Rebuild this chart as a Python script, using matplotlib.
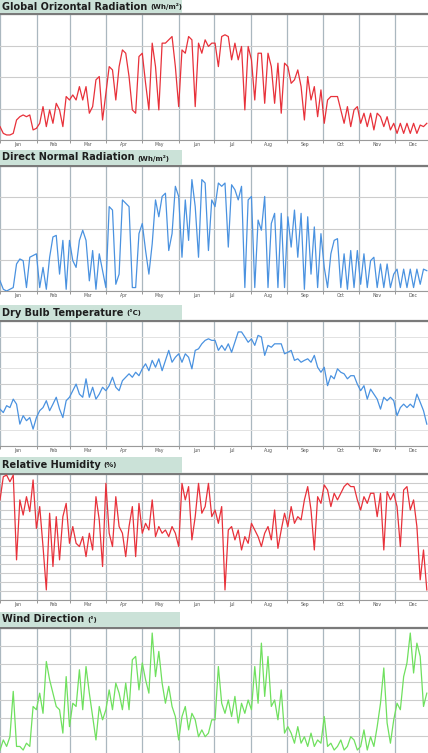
import numpy as np
import matplotlib
matplotlib.use("Agg")
import matplotlib.pyplot as plt
from matplotlib.patches import Rectangle

W, H = 428, 753

months = ["Jan", "Feb", "Mar", "Apr", "May", "Jun",
          "Jul", "Aug", "Sep", "Oct", "Nov", "Dec"]
month_starts = [0, 31, 59, 90, 120, 151, 181, 212, 243, 273, 304, 334]
month_mids = [15, 45, 74, 105, 135, 166, 196, 227, 258, 288, 319, 349]

# daily-ish samples (about every 2.8 days)
global_rad = [
    850, 420, 320, 320, 420, 1270, 1480, 1590, 1480, 1590, 640, 740, 1060,
    2120, 850, 1910, 1060, 2330, 1910, 850, 2760, 2540, 2860, 2540, 3390,
    2540, 3390, 1700, 2120, 3820, 4030, 1270, 2970, 4660, 4450, 2540, 4660,
    5720, 5510, 4030, 1910, 1700, 5300, 5510, 3600, 1910, 6150, 4660, 1910,
    6150, 6150, 6360, 6570, 4660, 2120, 5720, 5510, 6570, 6360, 2120, 6150,
    5510, 6360, 5940, 6150,
    6150, 4660, 6570, 6680, 6570, 5090, 6150, 5090, 5940, 1910, 5940, 5090,
    2540, 5510, 5510, 2330, 5510, 4660, 2330, 4880, 1700, 4880, 4660, 3600,
    3820, 4450, 3390, 1270, 4030, 2540, 3390, 1480, 3180, 1060, 2540, 2760,
    2760, 2760, 1910, 1060, 2120, 850, 1910, 2120, 1060, 1700, 850, 1700,
    640, 1700, 1480, 850, 1480, 640, 1060, 420, 1060, 420, 1060, 420, 1060,
    420, 950, 850, 1060,
]
direct_rad = [
    650, 110, 0, 110, 220, 1730, 2050, 1940, 220, 2160, 2270, 2380, 220,
    1510, 110, 2160, 3460, 3560, 1080, 3240, 110, 3240, 1940, 1510, 3240,
    3890, 3240, 650, 2590, 110, 2380, 1300, 220, 5400, 5180, 430, 1080, 5830,
    5620, 5400, 220, 220, 3670, 4320, 2590, 1080, 3020, 5830, 4750, 6050,
    6260, 2590, 3670, 6700, 6050, 2160, 5830, 3240, 7130, 5400, 2160, 7130,
    6910, 2590, 5830,
    5400, 6910, 6700, 6910, 2810, 6800, 6480, 5830, 6700, 220, 5830, 6050,
    220, 4540, 3890, 6050, 220, 4320, 4970, 220, 4970, 220, 4750, 2810, 5180,
    2160, 4970, 110, 4750, 1080, 4100, 220, 3670, 1510, 220, 2380, 3240,
    3350, 220, 2380, 110, 2590, 220, 2590, 430, 2380, 220, 1940, 2160, 220,
    1730, 220, 1730, 220, 1080, 1400, 220, 1400, 220, 1400, 220, 1400, 430,
    1400, 1300,
]
dry_bulb = [
    6.8, 5.7, 7.9, 7.3, 10.0, 8.4, 2.0, 4.7, 3.1, 4.1, 0.4, 4.1, 6.3, 7.3,
    9.5, 6.3, 8.4, 10.6, 6.8, 4.1, 9.5, 10.6, 12.7, 14.8, 11.6, 10.6, 16.5,
    10.6, 13.8, 10.0, 11.6, 13.8, 12.7, 14.3, 17.0, 13.8, 12.7, 15.9, 17.0,
    18.1, 17.0, 18.6, 17.5, 19.7, 21.3, 19.1, 22.4, 20.2, 22.9, 19.1, 22.4,
    25.6, 21.8, 23.4, 24.5, 21.8, 24.5, 23.4, 19.7, 25.6, 26.1, 27.7, 28.8,
    29.3, 28.8,
    28.8, 25.6, 27.2, 25.6, 27.7, 25.0, 28.2, 31.5, 31.5, 29.9, 28.2, 29.3,
    27.2, 30.4, 29.9, 24.0, 27.2, 26.6, 27.7, 27.7, 27.7, 24.5, 25.0, 25.6,
    22.4, 22.9, 21.8, 22.4, 22.9, 21.8, 24.0, 20.2, 18.6, 20.2, 14.3, 17.5,
    16.5, 19.7, 18.6, 18.1, 16.5, 17.5, 17.5, 14.8, 12.7, 14.3, 10.0, 13.2,
    11.6, 10.0, 6.8, 10.6, 9.5, 10.6, 9.5, 4.7, 7.3, 8.4, 7.3, 8.4, 7.3,
    11.6, 9.0, 6.3, 2.0,
]
rel_hum = [
    85.6, 98.5, 99.4, 95.7, 99.4, 52.3, 85.6, 77.2, 87.4, 79.1, 96.7, 69.8,
    81.9, 59.7, 35.6, 78.2, 48.6, 76.3, 52.3, 76.3, 83.7, 61.5, 70.8, 61.5,
    59.7, 65.2, 54.1, 67.1, 57.8, 87.4, 74.5, 48.6, 94.8, 67.1, 59.7, 87.4,
    70.8, 67.1, 54.1, 70.8, 81.9, 54.1, 83.7, 67.1, 72.6, 68.9, 85.6, 65.2,
    70.8, 67.1, 68.9, 65.2, 70.8, 67.1, 59.7, 94.8, 85.6, 93.0, 63.4, 76.3,
    94.8, 78.2, 81.9, 94.8, 76.3,
    80.0, 72.6, 81.9, 35.6, 68.9, 70.8, 63.4, 68.9, 57.8, 65.2, 61.5, 72.6,
    68.9, 65.2, 59.7, 67.1, 70.8, 63.4, 80.0, 58.7, 68.9, 78.2, 70.8, 81.9,
    72.6, 76.3, 74.5, 85.6, 93.0, 80.0, 57.8, 87.4, 83.7, 93.9, 91.1, 81.9,
    89.3, 85.6, 89.3, 93.0, 94.8, 93.0, 93.0, 85.6, 80.0, 87.4, 83.7, 89.3,
    89.3, 76.3, 89.3, 57.8, 90.2, 85.6, 89.3, 81.9, 59.7, 91.1, 93.0, 80.0,
    85.6, 70.8, 41.2, 57.8, 35.6,
]
wind_dir = [
    11, 39, 21, 48, 174, 21, 21, 11, 30, 21, 132, 123, 169, 113, 257, 206,
    169, 132, 123, 58, 215, 76, 141, 132, 234, 123, 243, 169, 104, 39, 132,
    95, 123, 178, 123, 197, 169, 123, 197, 123, 262, 271, 178, 253, 206, 169,
    336, 215, 285, 197, 141, 188, 132, 104, 39, 104, 132, 67, 113, 95, 48,
    67, 48, 58, 95,
    95, 243, 141, 113, 150, 104, 160, 86, 141, 113, 150, 123, 243, 141, 308,
    160, 271, 132, 150, 95, 178, 58, 76, 58, 30, 76, 30, 48, 21, 58, 21, 39,
    30, 104, 21, 30, 11, 21, 39, 11, 21, 48, 39, 11, 21, 67, 11, 48, 21, 76,
    141, 239, 86, 30, 95, 141, 123, 215, 253, 336, 225, 308, 271, 132, 169,
]

# title, unit, values, colour, ylim, ystep, minor?, axes top/bottom px, box top px, box width px, month labels?
panels = [
    ("Global Orizontal Radiation", "(Wh/m\u00b2)", global_rad, "#e8313a",
     (0, 8000), 2000, False, 14, 140, 0, 182, True),
    ("Direct Normal Radiation", "(Wh/m\u00b2)", direct_rad, "#4a92e0",
     (0, 8000), 2000, False, 166, 291, 150, 182, True),
    ("Dry Bulb Temperature", "(\u00b0C)", dry_bulb, "#4a92e0",
     (-5, 35), 10, True, 321, 446, 305, 182, True),
    ("Relative Humidity", "(%)", rel_hum, "#e8313a",
     (30, 100), 5, False, 474, 600, 457, 182, True),
    ("Wind Direction", "(\u00b0)", wind_dir, "#6fe05e",
     (0, 350), 50, False, 628, 754, 612, 180, False),
]

fig = plt.figure(figsize=(W / 100, H / 100), dpi=100)
renderer = fig.canvas.get_renderer()

for title, unit, vals, color, ylim, ystep, minor, top, bot, btop, bw, show_months in panels:
    ax = fig.add_axes([0, 1 - bot / H, 1, (bot - top) / H])
    x = np.linspace(0, 361, len(vals))
    ax.plot(x, vals, color=color, lw=0.9, zorder=3)
    ax.set_xlim(0, 362)
    ax.set_ylim(*ylim)

    ax.set_yticks(np.arange(ylim[0], ylim[1] + ystep / 2, ystep))
    if minor:
        ax.set_yticks(np.arange(ylim[0] + ystep / 2, ylim[1], ystep), minor=True)
        ax.grid(axis="y", which="minor", color="#e2e2e2", lw=0.7)
    ax.tick_params(axis="y", which="both", length=0, labelleft=False)

    ax.set_xticks(month_starts, minor=True)
    ax.set_xticks(month_mids)
    if show_months:
        ax.set_xticklabels(months, fontsize=3.3, color="#555555")
    else:
        ax.set_xticklabels([])
    ax.tick_params(axis="x", which="major", length=0, pad=1.5)
    ax.tick_params(axis="x", which="minor", length=2, width=0.6, color="#888888")
    ax.grid(axis="x", which="minor", color="#aab7bf", lw=0.9)
    ax.grid(axis="y", which="major", color="#cccccc", lw=0.8)
    ax.set_axisbelow(True)

    ax.spines["left"].set_visible(False)
    ax.spines["right"].set_visible(False)
    ax.spines["top"].set_color("#7a7a7a")
    ax.spines["top"].set_linewidth(1.6)
    ax.spines["bottom"].set_color("#9a9a9a")
    ax.spines["bottom"].set_linewidth(0.8)

    # label box above the plot
    fig.patches.append(Rectangle((0, 1 - (top - 1) / H), bw / W, (top - 1 - btop) / H,
                                 transform=fig.transFigure, facecolor="#cbe2d8",
                                 edgecolor="none", zorder=0))
    yc = 1 - (btop + top - 1) / 2 / H
    t = fig.text(2 / W, yc, title, fontsize=7.0, fontweight="bold",
                 color="#1e1e1e", va="center", ha="left")
    bb = t.get_window_extent(renderer)
    fig.text((bb.x1 + 3) / W, yc - 0.5 / H, unit, fontsize=5.0, fontweight="bold",
             color="#1e1e1e", va="center", ha="left")

fig.savefig("out.png", dpi=100)
